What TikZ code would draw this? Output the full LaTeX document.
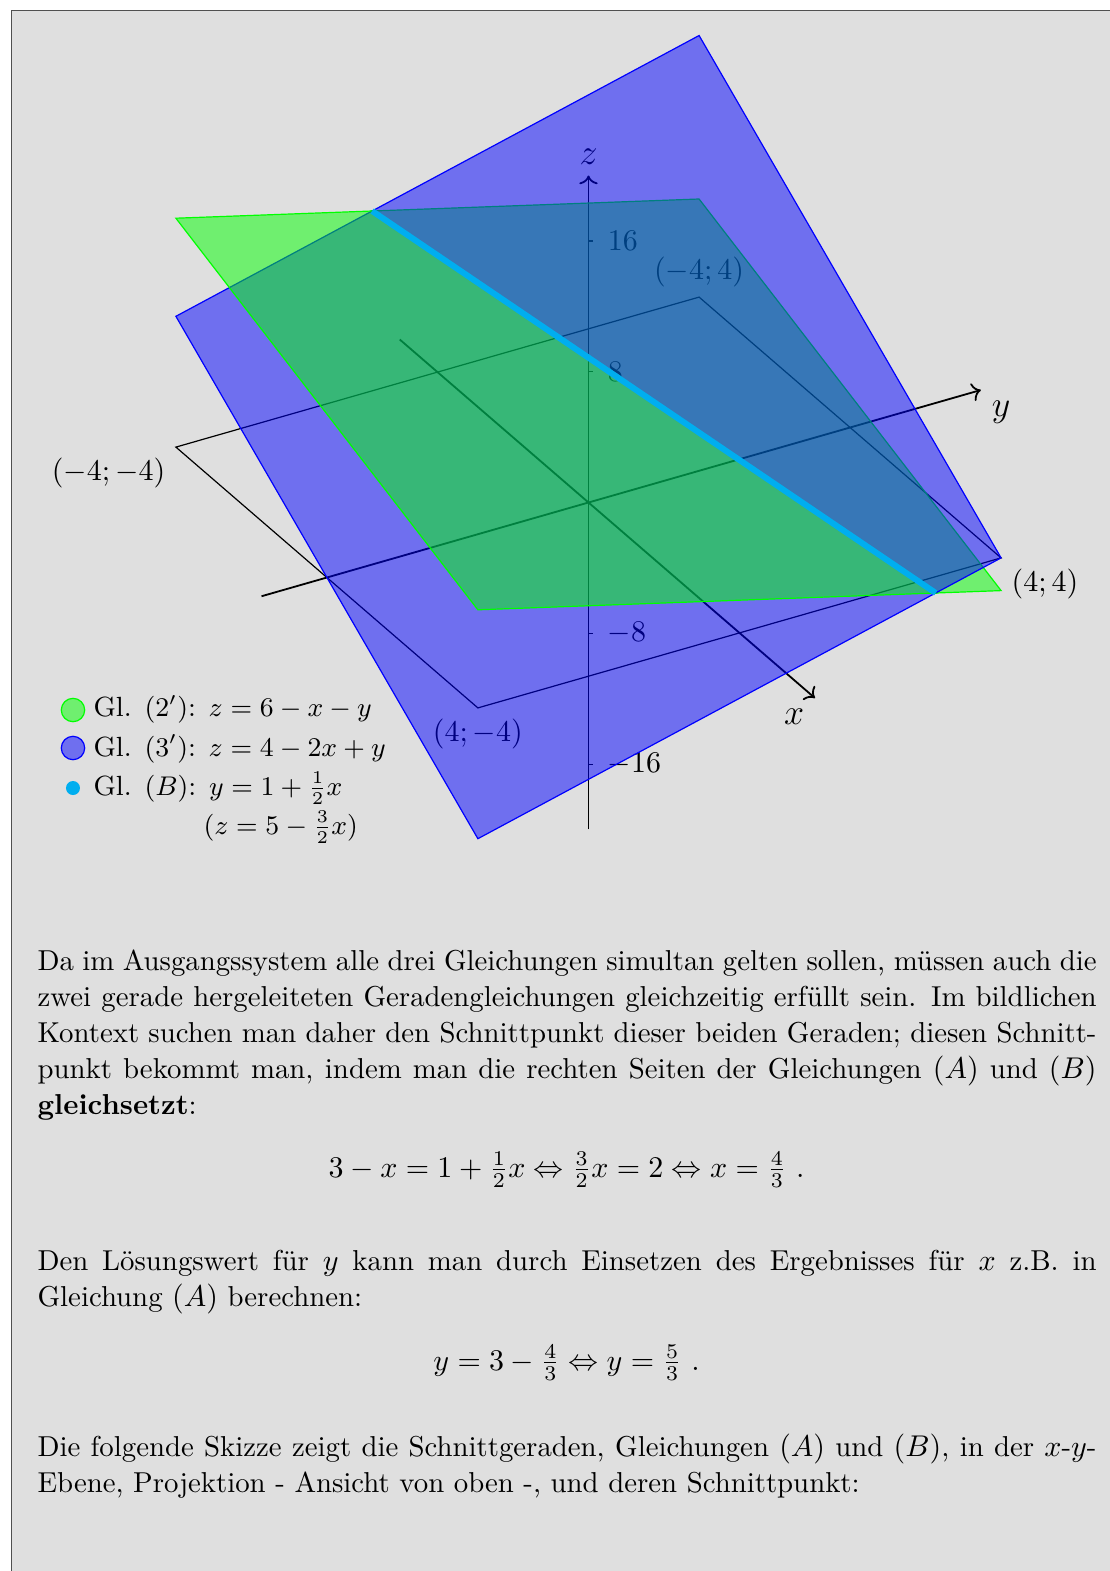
\documentclass[tikz,border=0pt]{standalone}
\usepackage{xcolor}
\usepackage{tikz}
\usetikzlibrary{arrows.meta, positioning}

\definecolor{bggray}{RGB}{223,223,223}
\definecolor{framegray}{RGB}{80,80,80}
\definecolor{lineB}{RGB}{0,174,239}

\begin{document}
\begin{tikzpicture}[
    font=\fontsize{9.6}{12}\selectfont,
    plane2/.style={draw=green, fill=green, fill opacity=0.5},
    plane3/.style={draw=blue, fill=blue, fill opacity=0.5},
    gerade/.style={draw=lineB, line width=2pt},
    axis/.style={->, semithick},
    square/.style={draw=black, thin},
    axislabel/.style={font=\fontsize{11.5}{14}\selectfont},
    para/.style={anchor=base west, inner sep=0pt, text width=353pt, align=justify},
    formula/.style={anchor=base, inner sep=0pt},
    legend/.style={font=\fontsize{9.25}{11.5}\selectfont, anchor=base west, inner sep=0pt}
]

    % page with the grey box, cut at the page edges
    \useasboundingbox (0,0) rectangle (13.004,-18.405);
    \begin{scope}
        \clip (0,0) rectangle (13.004,-18.405);
        \draw[framegray, fill=bggray, line width=0.4pt] (0.1324,-0.1207) rectangle (14,-19);
    \end{scope}

    % the 3D sketch: origin and unit vectors of the projection
    \begin{scope}[shift={(6.8945,-5.8869)},
        x={(0.44225cm,-0.38192cm)}, y={(0.76618cm,0.21966cm)}, z={(0cm,0.19155cm)}]

        % axes with ticks on z
        \draw[axis] (-5,0,0) -- (6,0,0) node[axislabel, below left] (lblx) {$x$};
        \draw[axis] (0,-5,0) -- (0,6,0) node[axislabel, below right] (lbly) {$y$};
        \draw[axis] (0,0,-20) -- (0,0,20) node[axislabel, above] (lblz) {$z$};
        \foreach \t in {-16,-8,8,16}
            \draw[thin] (0,0,\t) -- ++(0.05cm,0cm) node[right, xshift=1.5pt] (tick\t) {$\t$};

        % square in the x-y-plane
        \coordinate (cmm) at (-4,-4,0);
        \coordinate (cpm) at (4,-4,0);
        \coordinate (cpp) at (4,4,0);
        \coordinate (cmp) at (-4,4,0);
        \draw[square] (cmm) -- (cpm) -- (cpp) -- (cmp) -- cycle;
        \node[below left] (lblmm) at (cmm) {$(-4;-4)$};
        \node[above] (lblmp) at (cmp) {$(-4;4)$};
        \node[below right] (lblpp) at (cpp) {$(4;4)$};
        \node[below] (lblpm) at (cpm) {$(4;-4)$};

        % both planes cut along the line B, back halves first
        \coordinate (b1) at (-4,-1,11);
        \coordinate (b2) at (4,3,-1);
        \draw[plane2] (b1) -- (b2) -- (4,4,-2) -- (-4,4,6) -- cycle;
        \draw[plane3] (b1) -- (b2) -- (4,4,0) -- (-4,4,16) -- cycle;
        \draw[plane3] (b1) -- (b2) -- (4,-4,-8) -- (-4,-4,8) -- cycle;
        \draw[plane2] (b1) -- (b2) -- (4,-4,6) -- (-4,-4,14) -- cycle;
        \draw[gerade] (b1) -- (b2);
    \end{scope}

    % legend
    \draw[plane2] (0.8552,-8.3179) circle (0.137);
    \draw[plane3] (0.8552,-8.763) circle (0.137);
    \fill[lineB] (0.8552,-9.2317) circle (0.082);
    \node[legend] (leg2) at (1.0895,-8.3965) {Gl. $(2')$: $z = 6 - x - y$};
    \node[legend] (leg3) at (1.0895,-8.8568) {Gl. $(3')$: $z = 4 - 2x + y$};
    \node[legend] (legB) at (1.0895,-9.3137) {Gl. $(B)$: $y = 1 + \frac{1}{2}x$};
    \node[legend] (legBz) at (2.3782,-9.7706) {$(z = 5 - \frac{3}{2}x)$};

    % text below the sketch
    \node[para] (para1) at (0.4335,-11.3755) {Da im Ausgangssystem alle drei Gleichungen simultan gelten sollen, müssen auch die\linebreak
        zwei gerade hergeleiteten Geradengleichungen gleichzeitig erfüllt sein. Im bildlichen\linebreak
        Kontext suchen man daher den Schnittpunkt dieser beiden Geraden; diesen Schnitt-\linebreak
        punkt bekommt man, indem man die rechten Seiten der Gleichungen $(A)$ und $(B)$\linebreak
        \textbf{gleichsetzt}:};
    \node[formula] (eqx) at (6.637,-13.789) {$3 - x = 1 + \frac{1}{2}x \Leftrightarrow \frac{3}{2}x = 2 \Leftrightarrow x = \frac{4}{3}\ .$};
    \node[para] (para2) at (0.4335,-14.890) {Den Lösungswert für $y$ kann man durch Einsetzen des Ergebnisses für $x$ z.B. in\linebreak
        Gleichung $(A)$ berechnen:};
    \node[formula] (eqy) at (6.637,-16.050) {$y = 3 - \frac{4}{3} \Leftrightarrow y = \frac{5}{3}\ .$};
    \node[para] (para3) at (0.4335,-17.069) {Die folgende Skizze zeigt die Schnittgeraden, Gleichungen $(A)$ und $(B)$, in der $x$-$y$-\linebreak
        Ebene, Projektion - Ansicht von oben -, und deren Schnittpunkt:};

\end{tikzpicture}
\end{document}
